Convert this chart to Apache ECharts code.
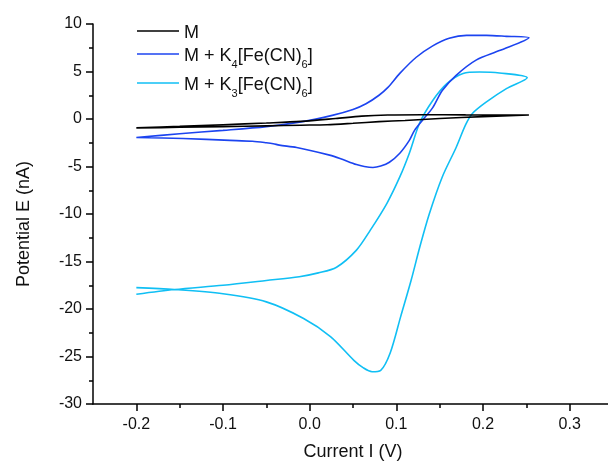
<!DOCTYPE html>
<html>
<head>
<meta charset="utf-8">
<script src="https://cdn.jsdelivr.net/npm/echarts@6/dist/echarts.min.js"></script>
<style>
  html, body { margin: 0; padding: 0; background: #fff; }
  #chart { width: 608px; height: 461px; }
</style>
</head>
<body>
<div id="chart"></div>
<script>
// Cyclic voltammograms: potential scanned from -0.2 up to 0.253 and back.
const seriesNames = ['M', 'M + K4[Fe(CN)6]', 'M + K3[Fe(CN)6]'];
const seriesColors = ['#000000', '#1c44f0', '#10bff4'];

// M (blank electrode)
const mX = [-0.2, -0.15, -0.1, -0.05, -0.01, 0.03, 0.06, 0.09, 0.13, 0.18, 0.253,
            0.2, 0.15, 0.11, 0.08, 0.05, 0.02, -0.01, -0.05, -0.1, -0.15, -0.2];
const mY = [-0.92, -0.78, -0.6, -0.42, -0.25, 0.05, 0.3, 0.42, 0.45, 0.43, 0.42,
            0.25, 0.05, -0.15, -0.28, -0.45, -0.6, -0.65, -0.72, -0.8, -0.87, -0.95];

// M + K4[Fe(CN)6]
const k4X = [-0.2, -0.15, -0.1, -0.05, -0.01, 0.026, 0.05, 0.065, 0.08, 0.09, 0.104, 0.123, 0.142, 0.161, 0.181, 0.204, 0.227, 0.253,
             0.219, 0.192, 0.169, 0.153, 0.142, 0.13, 0.121, 0.115, 0.104, 0.092, 0.082, 0.073, 0.063, 0.054, 0.035, 0.023,
             -0.015, -0.035, -0.042, -0.05, -0.066, -0.092, -0.146, -0.2];
const k4Y = [-1.95, -1.55, -1.2, -0.8, -0.3, 0.38, 1.0, 1.6, 2.5, 3.3, 4.8, 6.5, 7.7, 8.5, 8.8, 8.8, 8.7, 8.55,
             7.2, 6.2, 4.6, 3.0, 1.2, -0.15, -1.2, -2.25, -3.6, -4.55, -4.95, -5.1, -5.0, -4.8, -4.15, -3.8,
             -3.0, -2.75, -2.6, -2.5, -2.35, -2.25, -2.05, -1.95];

// M + K3[Fe(CN)6]
const k3X = [-0.2, -0.156, -0.1, -0.05, -0.012, 0.01, 0.031, 0.054, 0.07, 0.089, 0.104, 0.115, 0.127, 0.142, 0.158, 0.177, 0.196, 0.219, 0.251,
             0.227, 0.204, 0.188, 0.18, 0.169, 0.153, 0.138, 0.127, 0.117, 0.105, 0.093, 0.082, 0.072, 0.062, 0.051, 0.024, -0.007, -0.05, -0.1, -0.156, -0.2];
const k3Y = [-18.45, -17.95, -17.5, -17.0, -16.6, -16.2, -15.6, -13.8, -11.7, -8.9, -6.1, -3.6, -0.4, 1.95, 3.7, 4.8, 4.95, 4.85, 4.35,
             3.2, 1.8, 0.6, -0.6, -3.0, -6.1, -10.0, -13.5, -17.0, -20.8, -24.6, -26.45, -26.6, -26.2, -25.4, -22.9, -21.0, -19.25, -18.4, -17.95, -17.75];

// Axis ranges and tick positions
const xRange = { min: -0.25, max: 0.35, step: 0.05 };
const xMajorTicks = [-0.2, -0.1, 0.0, 0.1, 0.2, 0.3];
const xMinorTicks = [-0.15, -0.05, 0.05, 0.15, 0.25];
const yRange = { min: -30, max: 10, interval: 5 };

const pairs = (xs, ys) => xs.map((x, i) => [x, ys[i]]);
const curves = [pairs(mX, mY), pairs(k4X, k4Y), pairs(k3X, k3Y)];

const font = 'Liberation Sans, Arial, sans-serif';
const ink = '#111';

function legendLabel(name) {
  // K4 / K3 and (CN)6 carry subscripts
  const m = name.match(/^M \+ K(\d)\[Fe\(CN\)(\d)\]$/);
  if (!m) return '{t|' + name + '}';
  return '{t|M + K}{s|' + m[1] + '}{t|[Fe(CN)}{s|' + m[2] + '}{t|]}';
}

const rich = {
  t: { fontSize: 18, fontFamily: font, color: ink, lineHeight: 22, verticalAlign: 'bottom' },
  s: { fontSize: 11, fontFamily: font, color: ink, lineHeight: 22, verticalAlign: 'bottom', padding: [0, 0, -5, 0] }
};

const legendTops = [24, 47, 76];
const legends = seriesNames.map((n, i) => ({
  data: [n],
  left: 137,
  top: legendTops[i],
  padding: 0,
  icon: 'rect',
  itemWidth: 42,
  itemHeight: 1.6,
  formatter: legendLabel,
  textStyle: { rich: rich, fontSize: 18, fontFamily: font, color: ink },
  selectedMode: false
}));

const axisLineStyle = { color: '#000', width: 1.5 };

const chart = echarts.init(document.getElementById('chart'), null, { renderer: 'canvas' });
chart.setOption({
  animation: false,
  backgroundColor: '#fff',
  grid: { left: 93, top: 24, width: 520, height: 380, containLabel: false, outerBoundsMode: 'none' },
  legend: legends,
  xAxis: [
    {
      type: 'value',
      min: xRange.min, max: xRange.max, interval: xRange.step,
      name: 'Current I (V)', nameLocation: 'middle', nameGap: 39,
      nameTextStyle: { fontSize: 18, fontFamily: font, color: ink },
      axisLine: { onZero: false, lineStyle: axisLineStyle },
      axisTick: { show: true, inside: false, length: 7, customValues: xMajorTicks, lineStyle: axisLineStyle },
      axisLabel: {
        fontSize: 16, fontFamily: font, color: ink, margin: 13,
        customValues: xMajorTicks,
        formatter: v => (Math.abs(v) < 1e-9 ? '0.0' : v.toFixed(1))
      },
      splitLine: { show: false }
    },
    {
      // short ticks halfway between labelled ticks
      type: 'value',
      position: 'bottom',
      min: xRange.min, max: xRange.max, interval: xRange.step,
      axisLine: { show: false, onZero: false },
      axisTick: { show: true, inside: false, length: 4, customValues: xMinorTicks, lineStyle: axisLineStyle },
      axisLabel: { show: false },
      splitLine: { show: false }
    }
  ],
  yAxis: {
    type: 'value',
    min: yRange.min, max: yRange.max, interval: yRange.interval,
    name: 'Potential E (nA)', nameLocation: 'middle', nameGap: 60, nameRotate: 90,
    nameTextStyle: { fontSize: 18, fontFamily: font, color: ink, padding: [0, 20, 0, 0] },
    axisLine: { show: true, onZero: false, lineStyle: axisLineStyle },
    axisTick: { show: true, inside: false, length: 7, lineStyle: axisLineStyle },
    minorTick: { show: true, splitNumber: 2, length: 4, lineStyle: axisLineStyle },
    axisLabel: { fontSize: 16, fontFamily: font, color: ink, margin: 11 },
    splitLine: { show: false }
  },
  series: seriesNames.map((n, i) => ({
    name: n,
    type: 'line',
    xAxisIndex: 0,
    data: curves[i],
    showSymbol: false,
    symbol: 'none',
    smooth: 0.3,
    lineStyle: { color: seriesColors[i], width: 1.6 },
    itemStyle: { color: seriesColors[i] },
    z: 3 - i
  }))
});
</script>
</body>
</html>
